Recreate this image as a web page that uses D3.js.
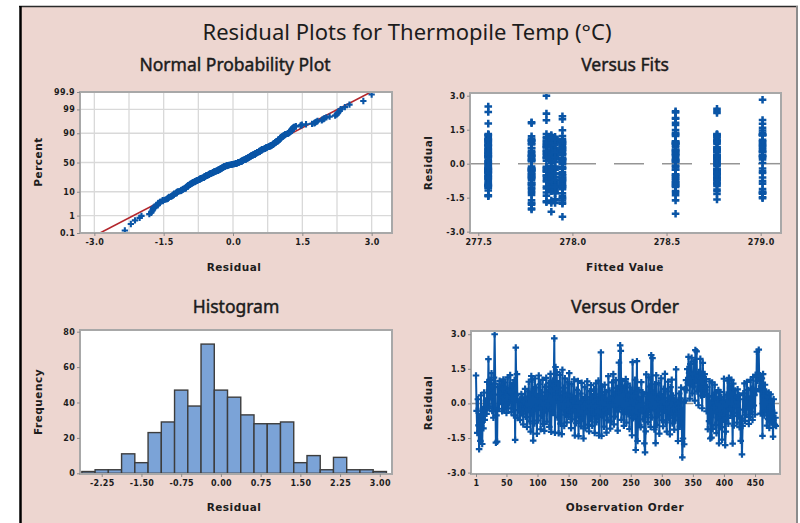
<!DOCTYPE html>
<html><head><meta charset="utf-8">
<script src="https://cdn.jsdelivr.net/npm/d3@7"></script>
<style>body{margin:0;background:#fff}svg{display:block}</style>
</head><body>
<svg id="chart" width="800" height="523"></svg>
<script>
// Residuals in observation order
const residuals = [
 1.21,-0.32,-1.28,0.18,-0.95,-1.98,-0.55,-1.62,0.35,-0.86,
 -1.76,-0.24,-1.08,0.47,-0.71,-0.28,0.12,-0.45,0.93,-0.21,
 1.92,0.58,-0.14,1.02,0.27,1.31,-0.33,0.76,-0.62,1.12,
 3.00,0.86,-1.70,-0.52,-1.66,0.71,0.38,-0.23,0.98,0.44,
 0.06,0.81,-0.34,0.62,1.04,-0.26,-0.12,0.91,0.33,-0.41,
 0.29,1.13,-0.22,0.57,0.02,1.23,0.49,-0.38,0.79,-0.18,
 0.88,-0.52,1.01,-1.58,2.42,0.36,1.27,-0.63,0.08,-0.29,
 0.17,-0.72,-0.04,0.41,-0.44,0.26,-0.91,0.09,-0.24,0.63,
 -0.58,0.21,-1.02,0.52,-0.27,0.94,-0.78,0.39,-1.22,1.19,
 -0.43,1.03,-1.61,0.61,-0.87,1.08,-0.13,0.69,-1.31,0.31,
 -0.74,1.21,-0.19,0.83,-1.12,0.48,-0.53,1.02,-0.89,0.23,
 -1.19,0.72,-0.31,1.11,-0.79,0.42,-0.09,0.89,-1.02,0.58,
 1.28,-1.23,0.53,0.99,-0.41,0.77,2.82,-1.27,1.58,0.28,
 1.36,-0.61,0.87,-1.29,0.51,1.24,-0.88,0.19,-1.33,1.46,
 -0.21,0.68,-0.98,1.09,-0.49,0.37,-0.82,0.92,-0.02,-0.59,
 1.31,-0.39,0.32,-1.07,0.84,-0.69,0.11,-0.28,1.04,-1.39,
 0.22,-0.86,0.59,-0.51,0.97,-1.42,0.01,-0.77,0.43,-0.99,
 0.89,-0.62,0.18,-1.52,-0.22,0.71,-1.08,0.27,-0.37,0.96,
 -0.92,0.08,-1.21,0.53,-0.68,0.79,-0.27,-0.97,0.31,-0.47,
 0.61,-1.28,-0.11,0.87,-0.81,0.16,-0.58,0.99,-1.39,0.39,
 -0.18,2.21,-1.41,0.73,-0.52,0.29,-1.01,0.81,-0.29,0.49,
 -1.27,0.13,-0.73,1.18,-0.36,0.56,-1.09,0.24,-0.79,0.91,
 -0.06,1.27,-0.91,0.42,-0.57,1.01,-0.26,0.67,-1.18,0.47,
 1.77,-0.24,2.52,2.28,-0.71,0.97,-0.38,0.61,-0.97,0.78,
 -0.31,1.06,-0.83,0.21,0.86,-0.47,0.37,-1.11,0.69,-0.19,
 0.51,-1.38,1.79,-0.64,0.33,-0.59,1.02,-2.02,0.11,1.83,
 -1.63,-0.42,0.58,-0.93,0.19,-1.03,0.92,-0.33,0.48,-0.69,
 0.41,-1.73,-2.12,-1.21,1.26,-0.49,0.03,-0.81,1.13,-0.27,
 0.73,-1.02,2.09,-0.61,1.96,-0.21,0.47,-1.13,0.83,-1.72,
 1.22,-0.93,0.19,-0.51,0.88,-1.31,0.39,-0.14,1.09,-0.73,
 0.31,-0.99,0.63,-0.32,1.28,-0.82,-0.03,-1.22,0.52,0.94,
 -0.63,0.23,-1.34,0.71,-0.43,1.03,-0.87,0.34,-0.23,-1.14,
 0.14,-0.74,1.48,-0.44,-0.01,-1.63,-0.18,0.43,-1.01,0.22,
 0.69,-0.66,-2.34,-1.52,0.06,-1.77,0.62,0.12,1.01,0.57,
 1.49,0.88,2.02,1.32,0.21,1.71,0.91,1.98,0.43,1.27,
 0.73,1.81,0.12,2.31,0.98,2.26,0.52,1.22,-0.08,1.36,
 0.64,1.93,0.34,1.29,-0.21,1.76,0.84,0.38,1.27,0.57,
 1.06,-0.34,0.72,-1.12,0.32,-0.77,0.96,-1.52,0.03,-1.48,
 0.91,-1.11,0.29,-0.18,0.81,-0.93,0.47,-1.29,0.18,-0.61,
 0.58,-1.73,-0.43,0.49,-1.03,0.27,-1.57,0.07,-0.71,1.07,
 -0.31,-1.81,-1.22,0.38,-0.63,0.99,-0.88,1.11,-0.24,0.68,
 -0.53,1.02,0.16,-1.74,0.86,-0.96,-0.41,0.56,-0.12,0.28,
 -0.83,0.61,-0.54,0.36,-1.03,0.18,-1.62,-0.66,-2.21,-0.98,
 0.44,-0.27,0.87,-0.76,0.07,-0.49,0.93,-0.17,0.58,-0.89,
 0.21,-0.58,1.02,-0.36,0.64,-0.72,1.14,-0.09,0.36,-0.48,
 1.24,0.53,2.24,0.98,1.31,2.33,0.62,1.18,-0.44,0.74,
 1.09,-1.41,1.27,0.33,-0.52,0.81,-0.31,0.52,-0.96,0.27,
 -0.68,0.47,-1.06,-0.14,0.39,-0.83,0.11,-0.57,-1.44,0.18,
 -0.41,-0.93,-0.62,-0.98
];

// Fitted values (°C) and the runs of consecutive observations at each one
const fitLevels = [277.553, 277.783, 277.862, 277.888, 277.908, 277.947, 278.548, 278.768, 279.010];
const runLevel  = [1,2,0,7,4,3,8,0,5,6,2,0,1,3,5,7,5,6,8,4,1,6,7,0];
const runLength = [20,20,20,20,20,20,20,20,20,20,20,20,20,20,20,20,20,20,20,20,20,20,20,24];

// Histogram bins (midpoints, width 0.25) and frequencies
const histMidpoints = [-2.5,-2.25,-2.0,-1.75,-1.5,-1.25,-1.0,-0.75,-0.5,-0.25,0,0.25,0.5,0.75,1.0,1.25,1.5,1.75,2.0,2.25,2.5,2.75,3.0];
const histCounts    = [1,2,2,11,6,23,29,47,38,73,47,43,33,28,28,29,6,10,2,9,2,2,1];
const binWidth = 0.25;

// Tick values
const probPercentTicks = [0.1, 1, 10, 50, 90, 99, 99.9];
const probGridPercents = [1, 10, 50, 90, 99];
const probResidTicks = [-3.0, -1.5, 0.0, 1.5, 3.0];
const probGridResid = [-3.0, -2.25, -1.5, -0.75, 0, 0.75, 1.5, 2.25, 3.0];
const residTicks = [-3.0, -1.5, 0.0, 1.5, 3.0];
const fitTicks = [277.5, 278.0, 278.5, 279.0];
const histXTicks = [-2.25, -1.50, -0.75, 0.00, 0.75, 1.50, 2.25, 3.00];
const histYTicks = [0, 20, 40, 60, 80];
const orderTicks = [1, 50, 100, 150, 200, 250, 300, 350, 400, 450];

const BLUE = '#0a55a6', RED = '#b3262c', PINK = '#edd6d0';
const TEXT = '#1c1c1c', FRAME = '#a8a8a8', TICK = '#8a8a8a';

// inverse standard normal CDF (Acklam)
function probit(p){
  const a=[-3.969683028665376e+01,2.209460984245205e+02,-2.759285104469687e+02,1.383577518672690e+02,-3.066479806614716e+01,2.506628277459239e+00];
  const b=[-5.447609879822406e+01,1.615858368580409e+02,-1.556989798598866e+02,6.680131188771972e+01,-1.328068155288572e+01];
  const c=[-7.784894002430293e-03,-3.223964580411365e-01,-2.400758277161838e+00,-2.549732539343734e+00,4.374664141464968e+00,2.938163982698783e+00];
  const d=[7.784695709041462e-03,3.224671290700398e-01,2.445134137142996e+00,3.754408661907416e+00];
  const pl=0.02425;
  if(p<pl){const q=Math.sqrt(-2*Math.log(p));return (((((c[0]*q+c[1])*q+c[2])*q+c[3])*q+c[4])*q+c[5])/((((d[0]*q+d[1])*q+d[2])*q+d[3])*q+1);}
  if(p>1-pl){const q=Math.sqrt(-2*Math.log(1-p));return -(((((c[0]*q+c[1])*q+c[2])*q+c[3])*q+c[4])*q+c[5])/((((d[0]*q+d[1])*q+d[2])*q+d[3])*q+1);}
  const q=p-0.5,r=q*q;
  return (((((a[0]*r+a[1])*r+a[2])*r+a[3])*r+a[4])*r+a[5])*q/(((((b[0]*r+b[1])*r+b[2])*r+b[3])*r+b[4])*r+1);
}

const svg = d3.select('#chart');

// outer pink frame
svg.append('rect').attr('x',20).attr('y',6).attr('width',777).attr('height',520).attr('fill',PINK);
svg.append('line').attr('x1',19).attr('x2',798).attr('y1',6.5).attr('y2',6.5).attr('stroke','#2b2b2b').attr('stroke-width',1.5);
svg.append('line').attr('x1',20.5).attr('x2',20.5).attr('y1',6).attr('y2',523).attr('stroke','#000').attr('stroke-width',2.5);
svg.append('line').attr('x1',797).attr('x2',797).attr('y1',6).attr('y2',523).attr('stroke','#8c8c8c').attr('stroke-width',2);

svg.append('text').attr('x',407).attr('y',40).attr('text-anchor','middle')
  .attr('font-family','Noto Sans, Open Sans, sans-serif').attr('font-size',22).attr('fill',TEXT)
  .text('Residual Plots for Thermopile Temp (°C)');

const TICKFONT = 'DejaVu Sans, sans-serif';

function panelTitle(text, cx, y){
  svg.append('text').attr('x',cx).attr('y',y).attr('text-anchor','middle')
    .attr('font-family','Noto Sans, Open Sans, sans-serif').attr('font-size',17.5).attr('fill',TEXT)
    .attr('stroke',TEXT).attr('stroke-width',0.45).text(text);
}
function xTitle(text, cx, y){
  svg.append('text').attr('x',cx).attr('y',y).attr('text-anchor','middle')
    .attr('font-family',TICKFONT).attr('font-weight','bold').attr('font-size',10.5)
    .attr('letter-spacing',0.5).attr('fill',TEXT).text(text);
}
function yTitle(text, x, cy){
  svg.append('text').attr('transform',`translate(${x},${cy}) rotate(-90)`).attr('text-anchor','middle')
    .attr('font-family',TICKFONT).attr('font-weight','bold').attr('font-size',10.5)
    .attr('letter-spacing',0.5).attr('fill',TEXT).text(text);
}
function plotBox(b){
  svg.append('rect').attr('x',b.x0).attr('y',b.y0).attr('width',b.x1-b.x0).attr('height',b.y1-b.y0)
    .attr('fill','#fff');
}
function plotFrame(b){
  svg.append('rect').attr('x',b.x0).attr('y',b.y0).attr('width',b.x1-b.x0).attr('height',b.y1-b.y0)
    .attr('fill','none').attr('stroke',FRAME).attr('stroke-width',2);
}
function styleAxis(g){
  g.select('.domain').remove();
  g.selectAll('line').attr('stroke',TICK).attr('stroke-width',1);
  g.selectAll('text').attr('font-family',TICKFONT).attr('font-weight','bold')
    .attr('font-size',8).attr('letter-spacing',0.3).attr('fill',TEXT);
}
function axes(b, x, y, xt, xf, yt, yf){
  const gx = svg.append('g').attr('transform',`translate(0,${b.y1})`)
    .call(d3.axisBottom(x).tickValues(xt).tickFormat(xf).tickSize(3).tickPadding(3));
  styleAxis(gx);
  const gy = svg.append('g').attr('transform',`translate(${b.x0},0)`)
    .call(d3.axisLeft(y).tickValues(yt).tickFormat(yf).tickSize(3).tickPadding(2));
  styleAxis(gy);
}
const crossSym = d3.symbol().type(d3.symbolCross);

// ---------- Normal Probability Plot ----------
{
  const b = {x0:80, x1:392, y0:92, y1:233};
  const x = d3.scaleLinear().domain([-3.31, 3.44]).range([b.x0, b.x1]);
  const zMax = probit(0.999);
  const y = d3.scaleLinear().domain([-zMax, zMax]).range([b.y1, b.y0]);
  plotBox(b);
  const grid = svg.append('g').attr('stroke','#d9d9d9').attr('stroke-width',1.3);
  probGridResid.forEach(v => grid.append('line').attr('x1',x(v)).attr('x2',x(v)).attr('y1',b.y0).attr('y2',b.y1));
  probGridPercents.forEach(p => grid.append('line').attr('x1',b.x0).attr('x2',b.x1).attr('y1',y(probit(p/100))).attr('y2',y(probit(p/100))));

  const sorted = residuals.slice().sort(d3.ascending);
  const n = sorted.length;
  const pts = sorted.map((r,i) => ({r, z: probit((i + 1 - 0.3)/(n + 0.4))}));
  const mu = d3.mean(residuals), sd = d3.deviation(residuals);

  const clipId = 'clipProb';
  svg.append('clipPath').attr('id',clipId).append('rect')
    .attr('x',b.x0).attr('y',b.y0).attr('width',b.x1-b.x0).attr('height',b.y1-b.y0);
  const inner = svg.append('g').attr('clip-path',`url(#${clipId})`);
  inner.append('line').attr('x1',x(mu - zMax*sd)).attr('y1',y(-zMax)).attr('x2',x(mu + zMax*sd)).attr('y2',y(zMax))
    .attr('stroke',RED).attr('stroke-width',1.6);
  inner.selectAll('path.pt').data(pts).join('path').attr('class','pt')
    .attr('d',crossSym.size(22)).attr('transform',d=>`translate(${x(d.r)},${y(d.z)})`).attr('fill',BLUE);

  plotFrame(b);
  axes(b, x, y, probResidTicks, d=>d.toFixed(1), probPercentTicks.map(p=>probit(p/100)),
       (d,i)=>String(probPercentTicks[i]));
  panelTitle('Normal Probability Plot', 235, 71);
  xTitle('Residual', 234, 271);
  yTitle('Percent', 42, 162);
}

// ---------- Versus Fits ----------
{
  const b = {x0:470, x1:781, y0:93, y1:233};
  const x = d3.scaleLinear().domain([277.456, 279.108]).range([b.x0, b.x1]);
  const y = d3.scaleLinear().domain([-3.06, 3.12]).range([b.y1, b.y0]);
  plotBox(b);
  svg.append('line').attr('x1',b.x0).attr('x2',b.x1).attr('y1',y(0)).attr('y2',y(0))
    .attr('stroke','#959595').attr('stroke-width',1.5).attr('stroke-dasharray','30,18');
  const fitted = [];
  runLevel.forEach((lv,k) => { for(let j=0;j<runLength[k];j++) fitted.push(fitLevels[lv]); });
  const pts = residuals.map((r,i) => ({f: fitted[i], r}));
  svg.append('g').selectAll('path').data(pts).join('path')
    .attr('d',crossSym.size(32)).attr('transform',d=>`translate(${x(d.f)},${y(d.r)})`).attr('fill',BLUE);
  plotFrame(b);
  axes(b, x, y, fitTicks, d=>d.toFixed(1), residTicks, d=>d.toFixed(1));
  panelTitle('Versus Fits', 625, 71);
  xTitle('Fitted Value', 625, 271);
  yTitle('Residual', 432, 163);
}

// ---------- Histogram ----------
{
  const b = {x0:80, x1:392, y0:330, y1:474};
  const x = d3.scaleLinear().domain([-2.66, 3.23]).range([b.x0, b.x1]);
  const y = d3.scaleLinear().domain([-0.4, 80.96]).range([b.y1, b.y0]);
  plotBox(b);
  const bins = histMidpoints.map((m,i) => ({m, c: histCounts[i]}));
  svg.append('g').selectAll('rect').data(bins).join('rect')
    .attr('x',d=>x(d.m - binWidth/2)).attr('width',d=>x(d.m + binWidth/2) - x(d.m - binWidth/2))
    .attr('y',d=>y(d.c)).attr('height',d=>y(0) - y(d.c))
    .attr('fill','#7ba3d7').attr('stroke','#3d3d3d').attr('stroke-width',1.4);
  plotFrame(b);
  axes(b, x, y, histXTicks, d=>d.toFixed(2), histYTicks, d=>String(d));
  panelTitle('Histogram', 236, 313);
  xTitle('Residual', 234, 511);
  yTitle('Frequency', 42, 402);
}

// ---------- Versus Order ----------
{
  const b = {x0:471, x1:780, y0:331, y1:474};
  const x = d3.scaleLinear().domain([-7.05, 490.2]).range([b.x0, b.x1]);
  const y = d3.scaleLinear().domain([-3.06, 3.14]).range([b.y1, b.y0]);
  plotBox(b);
  svg.append('line').attr('x1',b.x0).attr('x2',b.x1).attr('y1',y(0)).attr('y2',y(0))
    .attr('stroke','#959595').attr('stroke-width',1.5).attr('stroke-dasharray','30,18');
  const pts = residuals.map((r,i) => ({o: i + 1, r}));
  svg.append('path').datum(pts).attr('fill','none').attr('stroke',BLUE).attr('stroke-width',2)
    .attr('d', d3.line().x(d=>x(d.o)).y(d=>y(d.r)));
  svg.append('g').selectAll('path').data(pts).join('path')
    .attr('d',crossSym.size(24)).attr('transform',d=>`translate(${x(d.o)},${y(d.r)})`).attr('fill',BLUE);
  plotFrame(b);
  axes(b, x, y, orderTicks, d=>String(d), residTicks, d=>d.toFixed(1));
  panelTitle('Versus Order', 625, 313);
  xTitle('Observation Order', 625, 511);
  yTitle('Residual', 432, 403);
}
</script>
</body></html>
